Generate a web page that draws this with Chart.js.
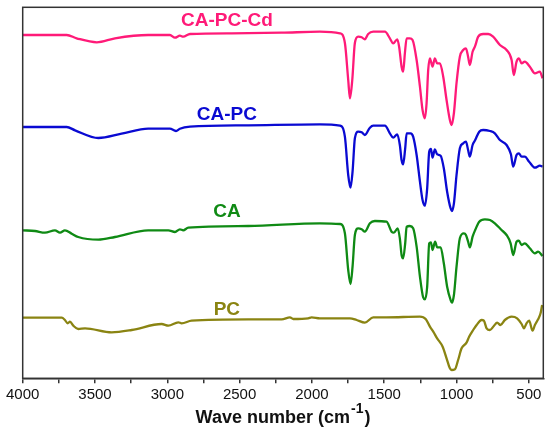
<!DOCTYPE html>
<html>
<head>
<meta charset="utf-8">
<script src="https://cdn.jsdelivr.net/npm/chart.js@4.4.0/dist/chart.umd.min.js"></script>
<style>
  html, body { margin: 0; padding: 0; background: #fff; }
  #wrap { width: 550px; height: 430px; }
</style>
</head>
<body>
<div id="wrap"><canvas id="myChart" width="550" height="430"></canvas></div>
<script>
'use strict';

//data (wave numbers in cm-1, intensities in offset arbitrary units)

const pcCdWave = [4000, 3696, 3627, 3488, 3362, 3132, 2982, 2947, 2913, 2890, 2843, 2555, 2210,
  1945, 1806, 1772, 1749, 1737, 1721, 1703, 1680, 1656, 1634, 1611, 1576, 1495, 1461, 1438, 1410,
  1397, 1380, 1369, 1357, 1345, 1323, 1304, 1276, 1253, 1235, 1219, 1207, 1196, 1184, 1166, 1150,
  1134, 1115, 1092, 1069, 1046, 1034, 1018, 1000, 977, 954, 935, 920, 908, 889, 873, 850, 816, 781,
  747, 700, 654, 619, 604, 585, 569, 550, 528, 493, 458, 424, 405];
const pcCdValues = [343.3, 343.3, 340, 336, 340, 343.3, 343.3, 340.6, 342.6, 341.6, 344.3, 345, 345.6,
  346.6, 345, 335.3, 298.3, 280, 298.3, 335.3, 341.6, 341, 339, 344.3, 346.6, 346.6, 340, 335, 339,
  331.6, 311.6, 306.6, 325.3, 340, 340, 338.3, 318.3, 291.6, 268.3, 260, 275.3, 308.3, 320, 311.6, 320,
  315, 315, 301.6, 278.3, 258.3, 253.3, 265.3, 295.3, 321.6, 328.3, 330, 321.6, 313.3, 326.6, 331.6, 341.6, 344.3, 344.3,
  341.6, 333.3, 328.3, 318.3, 303.3, 316.6, 320, 315, 316.6, 311.6, 305, 306.6, 300];

const caPcWave = [4000, 3696, 3638, 3477, 3316, 3132, 2982, 2940, 2913, 2843, 2440,
  1945, 1806, 1772, 1749, 1733, 1719, 1703, 1680, 1656, 1634, 1599, 1576, 1495, 1461, 1438, 1410,
  1392, 1380, 1369, 1355, 1345, 1318, 1300, 1276, 1253, 1235, 1219, 1203, 1189, 1177, 1166, 1150,
  1134, 1110, 1088, 1065, 1041, 1032, 1018, 1000, 977, 954, 935, 920, 908, 889, 871, 843, 816, 769,
  735, 700, 654, 624, 608, 585, 569, 550, 528, 498, 458, 424, 405];
const caPcValues = [251.3, 251.3, 248, 240.3, 244.6, 249.6, 249.6, 247.3, 249.6, 251.6, 253,
  254, 252.6, 241.6, 203.3, 190.6, 206.6, 240, 246.6, 246, 243.3, 250.6, 252.6, 252.6, 245, 240.6, 244,
  233.3, 218.3, 214, 230, 245, 245, 241.6, 223.3, 196.6, 178.3, 172.6, 190, 226.6, 229.3, 220.6, 229,
  224, 222.6, 210, 186.6, 170, 167.3, 175, 203.3, 230, 235, 236.6, 228.3, 221.6, 233.3, 238.3, 246.6, 248.3, 247.3,
  245, 238.3, 233.3, 224, 211.6, 223.3, 225, 221.6, 221.6, 216.6, 210.6, 212.6, 211.6];

const caWave = [4000, 3915, 3846, 3777, 3742, 3708, 3661, 3616, 3477, 3362, 3132, 2993, 2947, 2913, 2890, 2855, 2440,
  1945, 1806, 1772, 1749, 1733, 1719, 1703, 1680, 1656, 1634, 1599, 1565, 1484, 1449, 1433, 1407,
  1392, 1380, 1369, 1355, 1345, 1323, 1300, 1276, 1253, 1231, 1219, 1203, 1189, 1177, 1166, 1148,
  1134, 1110, 1088, 1065, 1041, 1032, 1018, 1000, 977, 949, 935, 920, 908, 889, 871, 843, 804, 769,
  735, 689, 654, 626, 608, 585, 569, 550, 528, 493, 458, 436, 405];
const caValues = [148, 147.3, 145.6, 148, 145.6, 148, 144.6, 141.3, 138.6, 141.3, 148, 148, 146.3, 149, 148, 150.6, 152.3,
  155, 154.3, 145, 108.3, 94.3, 111.6, 143.3, 150, 149, 146.6, 155, 157.3, 156.6, 146.6, 145.6, 150,
  140, 123.3, 120, 135, 151.6, 152.3, 150, 131.6, 101.6, 81, 79, 91.6, 135, 136, 128.3, 136.6,
  131, 131, 115, 91.6, 78.3, 75.6, 83.3, 111.6, 140, 145, 143.3, 136.6, 131, 141.6, 148.3, 156.6, 159, 158.3,
  155, 148.3, 143.3, 135, 123.3, 136.6, 137.6, 133.3, 135, 130, 125, 126.6, 122.3];

const pcWave = [4000, 3730, 3708, 3689, 3673, 3650, 3616, 3569, 3385, 3246, 3039, 2993, 2924, 2901, 2832,
  2440, 2209, 2152, 2129, 2026, 2002, 1945, 1737, 1691, 1634, 1576, 1484, 1253, 1212, 1184, 1161,
  1134, 1096, 1069, 1046, 1034, 1011, 989, 965, 931, 913, 885, 861, 827, 811, 792, 769, 742, 719,
  696, 666, 619, 581, 550, 534, 516, 498, 474, 458, 436, 419, 408];
const pcValues = [60.6, 60.6, 58.3, 55, 56.6, 52.6, 49.3, 50, 46, 48.3, 54.3, 52.6, 56, 55, 57.6,
  59, 59, 61, 59.3, 60, 61, 60, 60, 58.3, 55.6, 61, 61, 61.6, 59, 51.6, 46.6,
  40, 31.6, 20, 10, 8.3, 9, 18.3, 30, 35.6, 41.6, 48.3, 53.3, 58.3, 57.6, 50, 48.3, 52.3, 55.6,
  53.3, 58.3, 61.6, 60, 54.3, 50, 55, 57.6, 47.6, 53.3, 59, 65, 73.3];

//series names, colours and where each name sits (wave number, intensity)
const seriesNames = ['CA-PC-Cd', 'CA-PC', 'CA', 'PC'];
const seriesColors = ['#ff1a78', '#0a0ad2', '#0f8a14', '#8a8412'];
const labelWave = [2588, 2588, 2588, 2588];
const labelValues = [358, 263.8, 167, 69];

//x tick labels
const tickValues = [4000, 3500, 3000, 2500, 2000, 1500, 1000, 500];

const fontFamily = '"Liberation Sans", Arial, sans-serif';

//helpers

function toPoints(waves, values) {
  const points = [];
  for(let i = 0; i < waves.length; i++) {
    points.push({x: waves[i], y: values[i]});
  }
  return points;
}

function makeDataset(index, waves, values) {
  return {
    label: seriesNames[index],
    data: toPoints(waves, values),
    borderColor: seriesColors[index],
    borderWidth: 2.3,
    pointRadius: 0,
    cubicInterpolationMode: 'monotone',
    fill: false
  };
}

//plugins

//box round the plot area
const frame = {
  id: 'frame',
  afterDraw(chart) {
    const {ctx, chartArea} = chart;
    ctx.save();
    ctx.strokeStyle = '#333';
    ctx.lineWidth = 1.5;
    ctx.strokeRect(chartArea.left, chartArea.top, chartArea.right - chartArea.left, chartArea.bottom - chartArea.top);
    ctx.restore();
  }
};

//names of the traces, placed in data coordinates
const traceNames = {
  id: 'traceNames',
  afterDatasetsDraw(chart) {
    const ctx = chart.ctx;
    const xScale = chart.scales.x;
    const yScale = chart.scales.y;
    ctx.save();
    ctx.font = 'bold 19px ' + fontFamily;
    ctx.textAlign = 'center';
    ctx.textBaseline = 'middle';
    for(let i = 0; i < seriesNames.length; i++) {
      ctx.fillStyle = seriesColors[i];
      ctx.fillText(seriesNames[i], xScale.getPixelForValue(labelWave[i]), yScale.getPixelForValue(labelValues[i]));
    }
    ctx.restore();
  }
};

//axis title with a raised -1
const axisTitle = {
  id: 'axisTitle',
  afterDraw(chart) {
    const {ctx, chartArea} = chart;
    const main = 'Wave number (cm';
    const sup = '-1';
    const close = ')';
    ctx.save();
    ctx.fillStyle = '#111';
    ctx.textBaseline = 'alphabetic';
    ctx.font = 'bold 18px ' + fontFamily;
    const w1 = ctx.measureText(main).width;
    const w3 = ctx.measureText(close).width;
    ctx.font = 'bold 14px ' + fontFamily;
    const w2 = ctx.measureText(sup).width;
    const cx = (chartArea.left + chartArea.right) / 2;
    const base = chartArea.bottom + 45;
    let x = cx - (w1 + w2 + w3 + 2) / 2;
    ctx.font = 'bold 18px ' + fontFamily;
    ctx.fillText(main, x, base);
    x += w1 + 1;
    ctx.font = 'bold 14px ' + fontFamily;
    ctx.fillText(sup, x, base - 10);
    x += w2 + 1;
    ctx.font = 'bold 18px ' + fontFamily;
    ctx.fillText(close, x, base);
    ctx.restore();
  }
};

//main

const config = {
  type: 'line',
  data: {
    datasets: [
      makeDataset(0, pcCdWave, pcCdValues),
      makeDataset(1, caPcWave, caPcValues),
      makeDataset(2, caWave, caValues),
      makeDataset(3, pcWave, pcValues)
    ]
  },
  options: {
    responsive: false,
    animation: false,
    layout: {
      padding: {left: 22.7, right: 6.7, top: 7.3, bottom: 11.7}
    },
    plugins: {
      legend: {display: false},
      tooltip: {enabled: false}
    },
    scales: {
      x: {
        type: 'linear',
        reverse: true,
        min: 400,
        max: 4000,
        afterBuildTicks(scale) {
          const ticks = [];
          for(let v = 4000; v >= 500; v -= 250) {
            ticks.push({value: v});
          }
          scale.ticks = ticks;
        },
        afterFit(scale) {
          scale.height = 40;
        },
        ticks: {
          autoSkip: false,
          maxRotation: 0,
          padding: 3,
          color: '#111',
          font: {family: fontFamily, size: 15},
          callback(value) {
            return tickValues.includes(value) ? String(value) : '';
          }
        },
        grid: {
          drawOnChartArea: false,
          drawTicks: true,
          tickLength: 5,
          color: '#333',
          lineWidth: 1.5
        },
        border: {display: true, color: '#333', width: 1.5}
      },
      y: {
        display: false,
        min: 0,
        max: 371
      }
    }
  },
  plugins: [frame, traceNames, axisTitle]
};

let myChart = new Chart(
  document.getElementById('myChart'),
  config
);
</script>
</body>
</html>
